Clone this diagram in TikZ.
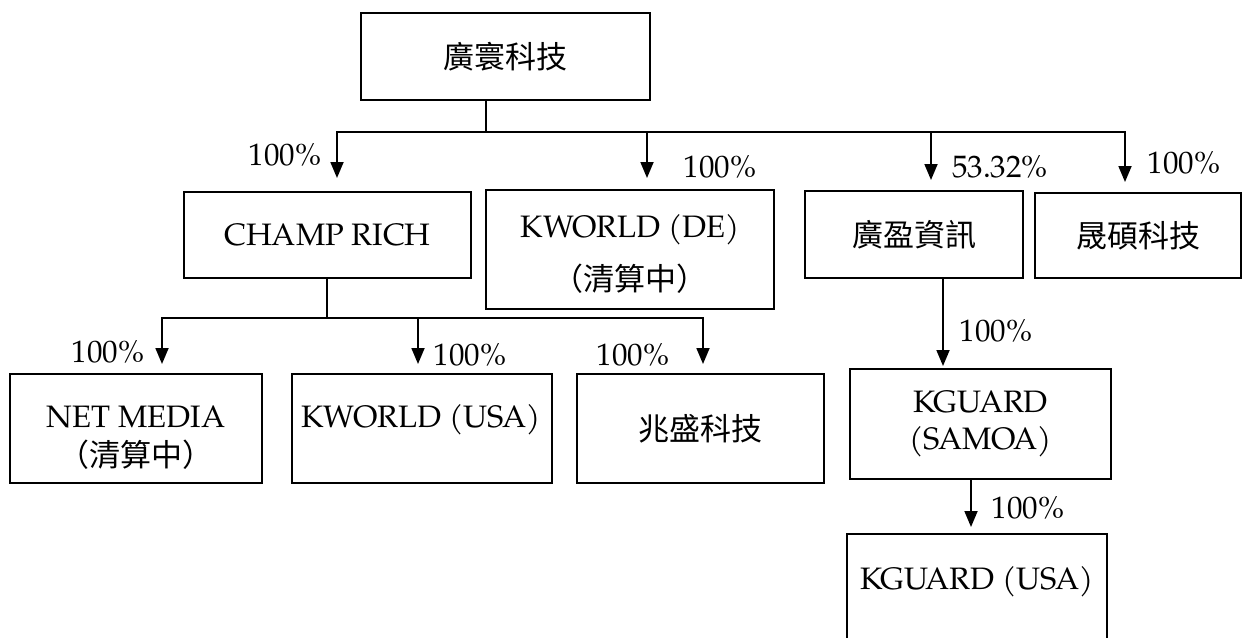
\documentclass[tikz,border=0pt]{standalone}
\usepackage{fontspec}
\setmainfont{TeX Gyre Pagella}
\newfontfamily\cjk{Noto Sans CJK TC}
\usetikzlibrary{arrows.meta,calc}
\begin{document}
\begin{tikzpicture}[x=1pt,y=-1pt,
  box/.style={draw, line width=1.8pt, rectangle, inner sep=0pt, align=center,
    font=\fontsize{31}{38}\selectfont},
  txt/.style={inner sep=0pt, align=center, font=\fontsize{31}{38}\selectfont},
  pct/.style={inner sep=0pt, font=\fontsize{31}{38}\selectfont},
  link/.style={line width=1.8pt},
  arr/.style={line width=1.8pt, -{Triangle[length=16pt,width=13pt]}},
]
\useasboundingbox (0,0) rectangle (1247,637);
\clip (0,0) rectangle (1247,637);

% boxes
\node[box, minimum width=289pt, minimum height=87pt] (top) at (505.5,56.5) {\cjk 廣寰科技};
\node[box, minimum width=287pt, minimum height=86pt] (champ) at (327.5,235) {CHAMP RICH};
\node[box, minimum width=288pt, minimum height=119pt] (kde) at (630,249.5) {};
\node[txt] (kdet) at (630,254) {KWORLD (DE)\\[15pt]{\cjk （清算中）}};
\node[box, minimum width=218pt, minimum height=87pt] (gy) at (914,234.5) {\cjk 廣盈資訊};
\node[box, minimum width=206pt, minimum height=85pt] (ss) at (1138,235.5) {\cjk 晟碩科技};
\node[box, minimum width=252pt, minimum height=109pt] (netm) at (136,428.5) {};
\node[txt] (netmt) at (136,437.5) {NET MEDIA\\[1pt]{\cjk （清算中）}};
\node[box, minimum width=260pt, minimum height=109pt] (kusa) at (422,428.5) {};
\node[txt] (kusat) at (421,420) {KWORLD (USA)};
\node[box, minimum width=247pt, minimum height=109pt] (zs) at (700.5,428.5) {\cjk 兆盛科技};
\node[box, minimum width=261pt, minimum height=110pt] (ksam) at (980.5,424) {KGUARD\\[-1pt](SAMOA)};
\node[box, minimum width=260pt, minimum height=116pt] (kgusa) at (977,592) {};
\node[txt] (kgusat) at (977,582) {KGUARD (USA)};

% first level connectors
\coordinate (j1) at (486,132);
\coordinate (b1m) at (647,132);
\coordinate (b1n) at (931,132);
\coordinate (t1) at (337,178);
\coordinate (t2) at (647,178);
\coordinate (t3) at (931,180);
\coordinate (t4) at (1125,182);
\draw[link] (j1 |- top.south) -- (j1);
\draw[arr] (j1) -| (t1);
\draw[arr] (j1) -| (t4);
\draw[arr] (b1m) -- (t2);
\draw[arr] (b1n) -- (t3);

% second level connectors
\coordinate (j2) at (327,318);
\coordinate (b2m) at (418,318);
\coordinate (t5) at (162,364);
\coordinate (t6) at (418,364);
\coordinate (t7) at (703,364);
\draw[link] (j2 |- champ.south) -- (j2);
\draw[arr] (j2) -| (t5);
\draw[arr] (j2) -| (t7);
\draw[arr] (b2m) -- (t6);

% right chain
\coordinate (t8) at (943,366);
\coordinate (t9) at (971,527);
\draw[arr] (t8 |- gy.south) -- (t8);
\draw[arr] (t9 |- ksam.south) -- (t9);

% percentages
\node[pct] (p1) at (285,155) {100\%};
\node[pct] (p2) at (720,167) {100\%};
\node[pct] (p3) at (1000,167) {53.32\%};
\node[pct] (p4) at (1184,163) {100\%};
\node[pct] (p5) at (108,352) {100\%};
\node[pct] (p6) at (470,355) {100\%};
\node[pct] (p7) at (633,355) {100\%};
\node[pct] (p8) at (996,331) {100\%};
\node[pct] (p9) at (1028,508) {100\%};
\end{tikzpicture}
\end{document}
